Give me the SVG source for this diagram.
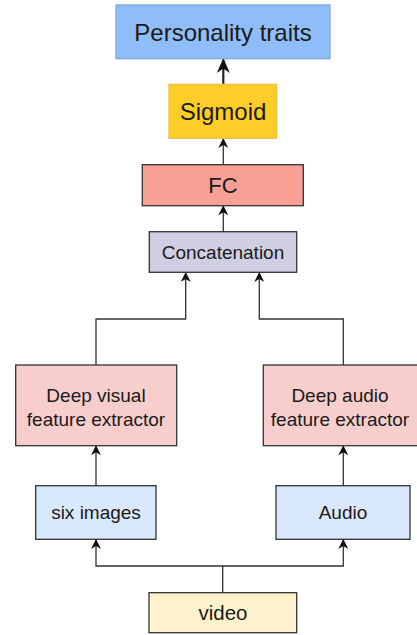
<svg xmlns="http://www.w3.org/2000/svg" width="417" height="635" viewBox="0 0 417 635">
<style>
  text { font-family: "Liberation Sans", Arial, sans-serif; fill: #1a1a1a; text-anchor: middle; }
  .box { stroke: #333333; stroke-width: 1.3; }
  .conn { fill: none; stroke: #333333; stroke-width: 1.3; }
</style>
<defs>
  <marker id="arr" viewBox="0 0 10 10" refX="9" refY="5" markerWidth="10" markerHeight="10" markerUnits="userSpaceOnUse" orient="auto">
    <path d="M0,0 L10,5 L0,10 L3,5 z" fill="#111111"/>
  </marker>
  <marker id="arrBig" viewBox="0 0 10 10" refX="9" refY="5" markerWidth="15" markerHeight="13" markerUnits="userSpaceOnUse" orient="auto" preserveAspectRatio="none">
    <path d="M0,0 L10,5 L0,10 L3,5 z" fill="#111111"/>
  </marker>
</defs>
<rect width="417" height="635" fill="#ffffff"/>
<g id="connectors">
  <line x1="223.3" y1="84.3" x2="223.3" y2="59.5" stroke="#222" stroke-width="2.2" marker-end="url(#arrBig)"/>
  <line x1="223.3" y1="164.7" x2="223.3" y2="139" class="conn" marker-end="url(#arr)"/>
  <line x1="223.3" y1="231.7" x2="223.3" y2="206.3" class="conn" marker-end="url(#arr)"/>
  <path d="M96,365 V319 H185.7 V273" class="conn" stroke="#555" marker-end="url(#arr)"/>
  <path d="M343.3,365 V319 H259.3 V273" class="conn" stroke="#555" marker-end="url(#arr)"/>
  <line x1="96" y1="485.7" x2="96" y2="446.3" class="conn" marker-end="url(#arr)"/>
  <line x1="343.3" y1="485.7" x2="343.3" y2="446.3" class="conn" marker-end="url(#arr)"/>
  <path d="M222.7,592.7 V566 H96 V540" class="conn" marker-end="url(#arr)"/>
  <path d="M222.7,566 H343.3 V540" class="conn" marker-end="url(#arr)"/>
</g>
<g id="personality">
  <rect x="116" y="5" width="214" height="53.7" fill="#8ebdfa" stroke="#7ea6e0" stroke-width="1.3"/>
  <text x="223" y="40.5" font-size="24">Personality traits</text>
</g>
<g id="sigmoid">
  <rect x="169" y="84.3" width="107.7" height="54" fill="#ffcd28" stroke="#e6c04a" stroke-width="1.3"/>
  <text x="223" y="120" font-size="24">Sigmoid</text>
</g>
<g id="fc">
  <rect x="142.3" y="164.7" width="161" height="41" fill="#f8a096" class="box"/>
  <text x="223" y="193.2" font-size="22">FC</text>
</g>
<g id="concatenation">
  <rect x="149.3" y="231.7" width="147.4" height="40.6" fill="#d0cee2" class="box"/>
  <text x="223" y="258.7" font-size="19">Concatenation</text>
</g>
<g id="visual">
  <rect x="15.7" y="365" width="161" height="80.7" fill="#f8cecc" class="box"/>
  <text x="96" y="401.6" font-size="19">Deep visual</text>
  <text x="96" y="425.6" font-size="19">feature extractor</text>
</g>
<g id="audiofeat">
  <rect x="263.3" y="365" width="156" height="80.7" fill="#f8cecc" class="box"/>
  <text x="340" y="401.6" font-size="19">Deep audio</text>
  <text x="340" y="425.6" font-size="19">feature extractor</text>
</g>
<g id="images">
  <rect x="35.7" y="485.7" width="120.3" height="53.6" fill="#dae8fc" class="box"/>
  <text x="96" y="519.2" font-size="19">six images</text>
</g>
<g id="audio">
  <rect x="276" y="485.7" width="134" height="53.6" fill="#dae8fc" class="box"/>
  <text x="343" y="519.2" font-size="19">Audio</text>
</g>
<g id="video">
  <rect x="149" y="592.7" width="147.7" height="40" fill="#fff2cc" class="box"/>
  <text x="223" y="620" font-size="20.5">video</text>
</g>
</svg>
